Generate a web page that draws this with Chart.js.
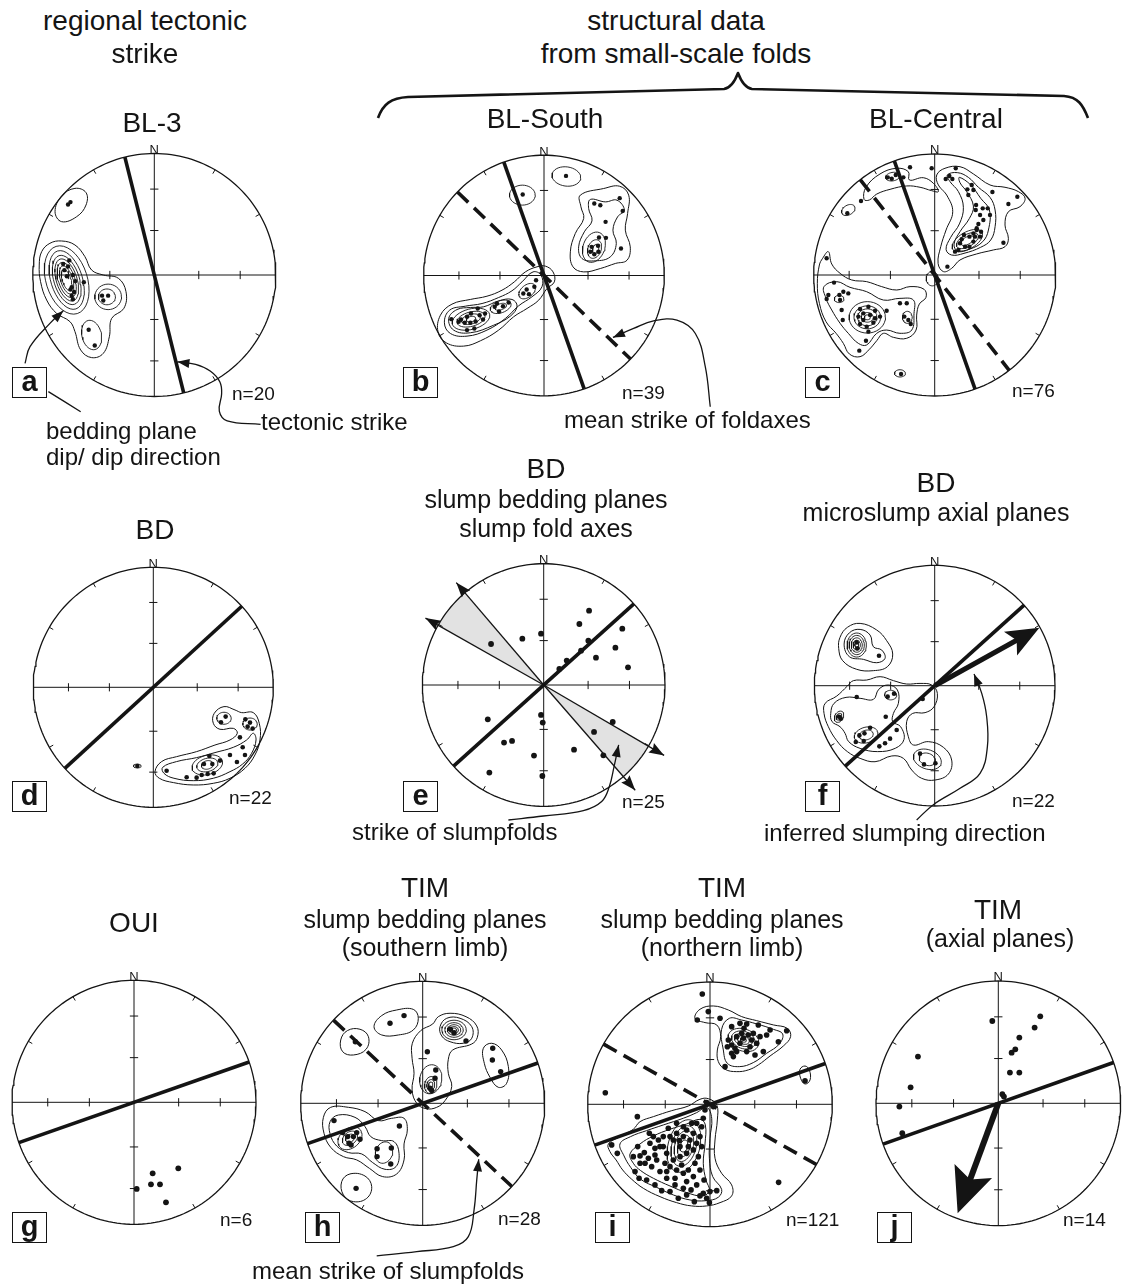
<!DOCTYPE html>
<html>
<head>
<meta charset="utf-8">
<title>Stereonets</title>
<script src="https://cdn.jsdelivr.net/npm/chart.js@4.4.1/dist/chart.umd.min.js"></script>
<style>
  html, body { margin: 0; padding: 0; background: #fff; }
  #page { position: relative; width: 1126px; height: 1285px; overflow: hidden;
          font-family: "Liberation Sans", Arial, Helvetica, sans-serif; color: #141414; }
  #page canvas { position: absolute; }
  .txt { position: absolute; white-space: nowrap; }
  .box { position: absolute; box-sizing: border-box; width: 35px; height: 31px; border: 1.6px solid #141414;
         font-weight: bold; font-size: 29px; line-height: 27px; text-align: center; }
</style>
</head>
<body>
<div id="page">
  <svg width="1126" height="140" style="position:absolute;left:0;top:0">
    <path d="M378,118 C383,104 391,98 408,97 L724,89 C731,88 735,81 738,73 C741,81 745,88 752,89 L1064,96 C1078,97 1083,105 1088,118"
          fill="none" stroke="#141414" stroke-width="2.6" stroke-linejoin="round"/>
  </svg>
</div>
<script>
// All stereonet values are in percent of the net radius: x = east, y = north.

// ---------- common net frame ----------
const azimuthTicks = [30, 60, 120, 150, 210, 240, 300, 330];
const dipTicks = [36.6, 70.7];

// ---------- a: BL-3 ----------
const polesA = [[-75,9],[-70,12],[-74,4],[-67,0],[-65,-5],[-69,-12],[-68,-17],[-67,-20],[-58,-6],[-43,-17],
  [-38,-17],[-42,-21],[-54,-45],[-49,-58],[-71,58],[-69,60],[-72,-1],[-68,-10],[-71,7],[-66,-14]];
const strikeA = [346];
const dashedA = [];
const contoursA = [
  [[-94.7,8.2],[-92.7,19.2],[-85.9,26.1],[-76.3,28],[-65.3,24.7],[-57.1,15.1],[-51.6,4.1],[-42,0],[-29.6,-2.7],
   [-23.3,-13.7],[-25,-27.4],[-35.1,-35.7],[-37,-50.8],[-42,-64.5],[-51.6,-68],[-60.6,-61.7],[-65.3,-46.6],
   [-69.4,-38.4],[-80.4,-31.6],[-88.6,-20.6],[-93.6,-5.5]],
  [[-81.7,52.1],[-76.3,65],[-65.3,71.3],[-56.2,67.8],[-56.2,57.6],[-63.9,48],[-76.3,43.9]]
];
const ringsA = [[-72.1,-4.1,29,17,-72.5],[-72.1,-4.1,25,13,-72.5],[-72.1,-4.1,21,10.5,-72.5],[-72.1,-4.1,18,8.5,-72.5],
  [-72.1,-4.1,15,6.8,-72.5],[-72.1,-4.1,12,5,-72.5],[-72.1,-4.1,9,3.6,-72.5],
  [-39,-18,7,6.5,0],[-38,-18,11,10.5,0],[-51.6,-49.4,12.3,8,-77]];

// ---------- b: BL-South ----------
const polesB = [[18.3,82.8],[-17.7,67.3],[41.8,59.8],[46.8,58.4],[62.9,64.3],[65.4,53.7],[51.2,44.6],[45.7,31.6],
  [51.5,31.3],[39.6,23.8],[38.5,19.7],[41.8,17.7],[45.2,19.7],[44.9,24.7],[64,22.4],
  [-6.6,-3.9],[-8,-9.4],[-14.4,-11.6],[-17.2,-15],[-12.5,-15.5],[-29.4,-22.4],[-39.1,-23.3],[-34.1,-25.5],
  [-37.4,-29.9],[-41,-26],[-49,-31.6],[-53.5,-33],[-60.7,-31.6],[-64,-34.3],[-69,-36.6],[-77,-36.3],
  [-65.9,-39.3],[-61.2,-39.3],[-56.8,-38.2],[-57.9,-44],[-64,-45.4],[-70.9,-38.5],[-50.7,-36.6],[-55.1,-27.4]];
const strikeB = [340.5];
const dashedB = [314];
const contoursB = [
  [[30.2,66.8],[49.6,72.3],[62.9,74.2],[70.4,66.8],[69.5,51.5],[67.6,37.7],[71.7,23.8],[69,12.7],[59.3,10],
   [46.8,5.8],[33,3],[24.1,7.2],[21.9,19.7],[26,34.9],[33,47.4],[30.7,57.1]],
  [[38.5,63.2],[51,61.2],[60.7,62.6],[66.8,54.3],[61.2,48.8],[57.3,37.7],[60.1,26.6],[55.1,15.5],[42.7,12.2],
   [31.6,14.1],[28.8,23.8],[33.5,36.3],[39.9,45.4],[37.1,55.7]],
  [[-5.8,7.2],[1.1,7.8],[7.5,3],[8.6,-5.3],[2.5,-10.8],[-4.4,-20.5],[-14.1,-27.4],[-25.2,-34.3],[-37.7,-45.4],
   [-52.9,-54.3],[-66.8,-58.7],[-81.2,-56],[-88.1,-46.8],[-86.1,-33],[-76.5,-23.8],[-61.2,-19.9],[-47.4,-17.2],
   [-34.9,-12.2],[-24.7,-5.3],[-15.5,3]],
  [[-9.1,3],[-2.5,0.3],[-1.7,-9.4],[-10,-17.7],[-21.1,-25.2],[-32.1,-35.7],[-47.4,-45.4],[-64,-50.4],[-77.8,-48.2],
   [-82.8,-39.3],[-78.4,-28.8],[-65.4,-25.5],[-51.5,-23.3],[-37.7,-18.3],[-26.6,-12.7],[-18.3,-5.3]],
  [[-72.3,-28.3],[-79.2,-35.7],[-75.1,-45.4],[-61.2,-47.6],[-41.8,-41.3],[-28,-33.8],[-22.4,-25.5],[-26.6,-19.9],
   [-37.7,-21.1],[-50.1,-26],[-61.2,-26.6]]
];
const ringsB = [[18.6,82.3,12,8,-8],[-18,66.8,10.7,8.3,0],[41.5,23.5,13,9,70],[42,22,8,5.5,70],[43,22,4,2.5,70],
  [-60.7,-36.3,16,8.5,15],[-60.7,-36.3,12,6,15],[-60.7,-36.3,8,4,15],[-60.7,-36.3,4,2.2,15],
  [-36,-26,9,5,20],[-36,-26,5,2.5,20],[-14,-13,8,5,40]];

// ---------- c: BL-Central ----------
const polesC = [[-38.8,80.7],[-35.5,79.6],[-32.2,82.7],[-25.9,80.7],[-20.4,89],[-2.5,88.2],[17.4,88.2],[9.1,79.3],
  [12.1,81.8],[14.6,79.3],[-60.9,61.2],[-72.2,51],
  [27,70.8],[30.6,74.4],[27.8,66.1],[47.7,68.6],[68.3,64.7],[60.9,58.7],[34.2,57.9],[39.7,55.1],[43.8,55.1],
  [33.9,53.7],[37.5,49.6],[45.7,49.6],[40.2,45.5],[34.7,38.6],[38.3,35.8],[32,34.4],[24.2,33.1],[28.7,31.7],
  [33.3,31.7],[37.5,31.7],[20.9,26.2],[25.1,23.4],[28.7,23.4],[19.6,20.7],[16.8,19.3],[56.8,26.7],[10.5,6.9],
  [34.7,37.2],[22.3,29.5],[32,70.3],[32,27.6],[36.1,42.2],
  [-89.3,13.8],[-83.2,-6.3],[-87.9,-16.5],[-89.3,-19.8],[-78.8,-16.5],[-78.2,-20.7],[-75.5,-13.8],[-71.4,-15.2],
  [-76.9,-28.9],[-76,-37.2],[-61.7,-28.1],[-54.8,-26.2],[-59,-31.7],[-63.1,-34.4],[-53.4,-33.1],[-49.3,-35.8],
  [-59,-37.2],[-61.7,-40.5],[-56.2,-42.7],[-50.7,-39.4],[-54.8,-46.8],[-56.8,-54.3],[-62.3,-62.5],[-39.7,-29.5],
  [-28.7,-23.4],[-23.1,-23.4],[-25.1,-34.4],[-21.8,-37.2],[-19.8,-40.5],[-49.3,-29.5],[-45.2,-34.4],
  [-27.8,-81.8]];
const strikeC = [340.5];
const dashedC = [322];
const contoursC = [
  [[-58.4,62.5],[-56.8,72.5],[-45.2,83.5],[-31.4,88.2],[-21.8,85.4],[-20.9,78.5],[-9.4,80.4],[-1.1,75.8],[3,68.9],
   [-2.5,69.7],[-12.1,72.5],[-23.1,73.6],[-36.9,70.8],[-47.9,66.9],[-54,62]],
  [[1.7,82.7],[8.5,88.2],[20.9,89.5],[32,83.5],[45.7,74.4],[58.1,72.5],[69.2,68.9],[74.7,63.4],[70.5,56.5],
   [60.9,52.3],[58.1,41.3],[60.9,30.3],[58.1,23.4],[48.5,20.7],[34.7,17.4],[20.9,12.4],[14,5.5],[7.2,2.8],
   [2.8,9.6],[5,23.4],[9.4,37.2],[14.9,52.3],[9.9,66.1],[3,74.4]],
  [[10.5,82.7],[18.7,84.6],[27.8,80.7],[36.1,72.5],[45.7,64.2],[49.9,53.7],[49.9,39.9],[46.3,28.9],[38,22.9],
   [24.2,17.9],[14,16.5],[9.4,21.2],[13.2,31.1],[20.4,42.2],[23.7,55.9],[19.6,68.9],[12.7,77.1]],
  [[20.4,80.7],[29.8,74.4],[38,63.4],[45.2,53.7],[44.4,37.2],[39.7,27.6],[29.2,21.5],[18.7,20.1],[16,25.6],
   [20.9,35.8],[28.7,46.8],[32,57],[26.4,68.9],[20.9,76.3]],
  [[-92.6,13.8],[-87.9,19.3],[-85.1,9.1],[-78.2,1.4],[-68.6,-4.1],[-56.2,-5.5],[-43.8,-9.6],[-31.4,-12.4],
   [-20.4,-9.6],[-8.8,-11.8],[-7.2,-18.5],[-12.7,-24],[-14.9,-33.1],[-15.4,-45.5],[-23.1,-52.3],[-34.2,-51.5],
   [-42.4,-48.2],[-47.9,-54.3],[-54,-61.4],[-61.7,-67.5],[-70.5,-65.3],[-75.5,-56.5],[-81.5,-48.2],[-89.8,-38.6],
   [-95.3,-23.4],[-97,-6.9],[-95.3,8.3]],
  [[-91.5,-9.6],[-81,-5.5],[-70,-10.2],[-56.2,-13.8],[-42.4,-20.7],[-28.7,-19.3],[-17.6,-20.7],[-17.1,-31.7],
   [-19,-45.5],[-28.7,-48.2],[-39.7,-45.5],[-47.9,-48.2],[-56.2,-57.8],[-63.1,-56.5],[-71.4,-48.2],[-78.2,-39.9],
   [-85.1,-28.9],[-89.8,-19.3]]
];
const ringsC = [[-34.7,81.3,6,3.5,10],[-71.4,53.7,6,4,30],[-28.7,-81.3,4.5,3,0],
  [27,28.4,14,7,30],[27,28.4,10,5,30],[27,28.4,6,3,30],
  [-55.7,-35,15,13,0],[-55.7,-35,11,9.5,0],[-55.7,-35,8,7,0],[-55.7,-35,5,4,0],[-55.7,-35,2.5,2,0],
  [-79,-19.8,4,3,0],[-22.6,-35,5,4,90],[-2,-3,5,6,0]];

// ---------- d: BD ----------
const polesD = [[60.3,-24.4],[56.4,-29.2],[76.7,-26.7],[80.6,-29.4],[78.6,-32.8],[82.8,-34.4],[74.5,-50],[76.4,-56.4],
  [69.7,-62.2],[63.9,-56.4],[55.6,-61.1],[46.7,-57.2],[42.2,-63.9],[49.2,-63.9],[45.3,-72.2],[40.3,-73.1],
  [50.3,-71.7],[36.1,-75.3],[27.8,-75],[11.1,-69.5],[72.2,-41.7],[-13.3,-65.6]];
const strikeD = [47.5];
const dashedD = [];
const contoursD = [
  [[1.4,-70.3],[6.9,-61.9],[19.4,-57.8],[36.1,-53.6],[51.4,-48.1],[63.9,-43.9],[70,-38.3],[66.7,-34.2],[55.6,-35],
   [50,-30],[50.8,-21.7],[58.9,-16.1],[68.1,-18.9],[73.6,-21.1],[83.3,-21.1],[88.3,-30],[88.9,-43.9],[84.7,-56.4],
   [76.4,-67.5],[63.9,-75.8],[50,-80],[33.3,-81.4],[16.7,-79.4],[5,-75.8]],
  [[7.8,-66.7],[19.4,-61.9],[36.1,-58.6],[51.4,-54.4],[66.7,-50],[77.8,-43.9],[83.3,-38.3],[85.6,-43.9],[81.9,-55],
   [74.5,-63.9],[63.9,-70.3],[50,-75.8],[33.3,-77.8],[17.2,-75.8],[8.9,-71.7]]
];
const ringsD = [[80.6,-30.6,6,5,0],[45,-64.7,13,8,15],[45,-64.7,9,5.5,15],[45,-64.7,5,3.5,15],[58.9,-25.8,6,5,0],
  [-13.3,-65.6,3.2,1.6,0]];

// ---------- e: BD slump bedding planes / slump fold axes ----------
const polesE = [[37.4,61.3],[29.4,50.3],[64.8,46.4],[36.8,36.5],[30.8,28.3],[59.1,30.8],[43.1,22.5],[69.5,14.6],
  [12.9,13.2],[-2.2,42.3],[-17.6,38.2],[-43.4,33.8],[-46.1,-28.3],[-2.2,-24.7],[-0.8,-31],[-32.7,-47.5],
  [-26.1,-46.1],[-8,-58.2],[-44.8,-72.2],[-1.1,-75],[41.5,-38.7],[56.9,-30.5],[25,-53.3],[49.2,-58],[19,20.1]];
const strikeE = [48];
const dashedE = [];
const foldAxisSectorsE = [[299.5, 319.5], [120.3, 139]];
const foldAxisArrowsE = [[319.5, 111], [299.5, 112], [120.3, 115], [139, 115]]; // azimuth, reach

// ---------- f: BD microslump axial planes ----------
const polesF = [[-64.8,36],[-64.3,31],[-46.3,24.9],[-64.8,-9.4],[-39.1,-9.1],[-33.8,-6.6],[-10,-11.1],[-79.5,-25.8],
  [-40.7,-25.8],[-53.7,-34.9],[-58.4,-39.6],[-62.6,-41.3],[-65.6,-46.8],[-59,-46],[-46,-50.4],[-37.1,-44],
  [-31.6,-36.8],[-12.2,-56.5],[-8.9,-65.4],[0.6,-64.5],[-41.3,-47.9],[-78.1,-27.4]];
const strikeF = [48];
const dashedF = [];
const slumpDirectionF = [61, 99.5]; // azimuth, reach
const contoursF = [
  [[-78.7,40.2],[-72.6,48.5],[-62,51.8],[-48.2,46.3],[-39.9,37.4],[-34.9,26.3],[-39.3,15.8],[-51,12.5],[-64.8,13.6],
   [-76.5,20.8],[-79.8,31]],
  [[-75.3,34.6],[-70.9,44],[-62,46.8],[-53.7,42.1],[-51,32.4],[-44,29.6],[-41.3,22.7],[-48.2,19.1],[-59.3,21.9],
   [-70.9,24.1]],
  [[-91.1,-14.7],[-81.4,-8.6],[-72.6,-0.3],[-67.6,4.2],[-56.5,4.7],[-45.4,7.5],[-34.3,4.2],[-23.3,1.4],[-12.2,1.9],
   [-2.5,0.6],[2.2,-6.4],[-0.6,-17.5],[-8,-22.4],[-18.3,-23],[-23.3,-29.9],[-21.9,-42.4],[-17.7,-49.3],[-5.3,-46.5],
   [7.2,-51.2],[14.1,-61.8],[11.4,-73.4],[0.3,-78.4],[-10.8,-77],[-19.1,-70.1],[-26,-60.4],[-35.7,-58.4],
   [-49.6,-63.2],[-62,-60.4],[-72.6,-54.8],[-81.4,-45.7],[-88.4,-34.1],[-92,-23]],
  [[-86.4,-23],[-83.7,-14.7],[-73.7,-9.7],[-62,-10.5],[-51,-11.4],[-46.5,-3],[-38.5,0.6],[-31,-3.6],[-30.2,-14.7],
   [-34.3,-23],[-34.9,-29.9],[-28.3,-34.1],[-25.5,-44.6],[-32.7,-52],[-47.4,-54.8],[-62,-52.1],[-71.5,-46.5],
   [-74.5,-39.6],[-78.7,-34.1],[-85.3,-29.9]]
];
const ringsF = [[-64.8,33.8,10,8,90],[-64.8,33.8,8,6.3,90],[-64.8,33.8,6,4.6,90],[-64.8,33.8,4,3,90],[-64.8,33.8,2.2,1.6,90],
  [-79.5,-25.8,5,3.5,60],[-79.5,-25.8,3,2,60],[-36.6,-7.8,5,4,0],[-57,-41,10,6.5,15],[-57,-41,6,4,15],
  [-6.1,-61.2,12,8,-20],[-6.1,-61.2,7,5,-20]];

// ---------- g: OUI ----------
const polesG = [[15.3,-58.2],[36.3,-54.1],[13.9,-67.2],[21.3,-67.2],[2.2,-71],[26.2,-82]];
const strikeG = [70.7];
const dashedG = [];

// ---------- h: TIM southern limb ----------
const polesH = [[-26.8,65.6],[-15.3,71.9],[-55.2,50.5],[3.8,42.3],[10.7,27.3],[10.1,20.5],[6,12.3],[7.4,10.4],
  [22.7,60.7],[25.7,57.9],[35.5,51.1],[57.4,45.1],[57.1,35.5],[63.9,26],[-72.7,-14.2],[-65.6,-24],[-61.5,-27.3],
  [-60.4,-32.8],[-56.8,-27.3],[-54.1,-24],[-51.4,-29.5],[-58.7,-34.2],[-19.1,-18.6],[-37.4,-37.2],[-25.7,-36.6],
  [-37.4,-43.7],[-26.2,-49.7],[-54.6,-69.7]];
const strikeH = [70.7];
const dashedH = [313];
const contoursH = [
  [[-67.2,51.9],[-61.7,59.6],[-51.4,60.7],[-44.5,54.6],[-46.4,44.3],[-56.8,39.6],[-65.6,42.3]],
  [[-39.9,62.8],[-33.6,71.9],[-21.3,76.5],[-7.7,77],[-3.6,69.7],[-7.7,60.1],[-19.9,56],[-33.6,56]],
  [[-8.5,49.2],[-1.6,59.6],[8.2,65],[12.8,71],[22.4,73.8],[35.5,71],[44.3,63.4],[44.8,54.1],[40.2,48.6],[24.6,43.7],
   [21,36.1],[21,24.6],[23.8,13.7],[18.3,2.2],[11.5,-3.3],[2.7,-4.4],[-4.9,0],[-8.7,10.9],[-7.1,24.6],[-8.7,36.9]],
  [[14.2,62.8],[19.7,69.7],[30.6,69.7],[40.2,62.8],[40.2,53.3],[33.3,49.2],[22.4,50.5],[15.6,55.2]],
  [[49.7,45.1],[56.6,49.2],[64.7,43.7],[70.2,30.1],[68.8,16.4],[62,13.1],[55.2,21.3],[50.5,32.8]],
  [[-81.4,-11.5],[-75.4,-3.3],[-60.9,-3.3],[-47.3,-6.8],[-36.3,-14.2],[-25.4,-12.3],[-15.3,-12.3],[-12.6,-21.9],
   [-15.3,-33.3],[-15.3,-46.4],[-21.3,-57.9],[-32.8,-60.1],[-43.7,-53.3],[-54.1,-46.4],[-65,-43.7],[-75.4,-36.1],
   [-80.9,-24.6]],
  [[-75.9,-15],[-69.1,-9.6],[-55.5,-11.5],[-47.3,-19.1],[-42.6,-27.3],[-33.6,-30.6],[-23.5,-31.4],[-19.4,-41],
   [-21.9,-51.9],[-30.9,-54.1],[-41,-48.6],[-50,-41.5],[-60.9,-40.4],[-70.5,-35],[-75.9,-25.1]],
  [[-66.4,-64.2],[-59.6,-57.9],[-47.3,-59.6],[-41.8,-68.3],[-45.9,-77.9],[-56.8,-80.6],[-65,-75.1]]
];
const ringsH = [[25.7,60.1,10,8,0],[25.7,60.1,7.5,6,0],[25.7,60.1,5.5,4.3,0],[25.7,60.1,3.5,2.8,0],[25.7,60.1,2,1.6,0],
  [6.6,19.7,12,9,80],[6.6,15,7,5,80],[6.6,15,4.5,3.2,80],[6.6,15,2.5,1.8,80],
  [-59.6,-28.7,11,8,40],[-59.6,-28.7,7,5,40],[-59.6,-28.7,4,3,40],[-31.7,-40.4,9,7,70]];

// ---------- i: TIM northern limb ----------
const polesI = [[17.7,63.5],[24.5,66.2],[30,65.7],[39.5,64.9],[49.1,60.8],[62.7,60.2],[55.9,51.2],[15,52.6],[17.7,48.5],
  [21.8,55.3],[25.9,58],[31.3,56.7],[35.4,58],[40.9,55.3],[38.2,49.9],[32.7,47.1],[24.5,49.9],[20.4,45.8],[17.7,41.7],
  [21.8,43.1],[30,43.1],[36.8,40.3],[43.6,43.1],[12.3,30.8],[27.3,54],[27.8,62.1],[46.3,56.7],[34.1,52.6],[19.1,39],
  [14.2,47.1],
  [-80.4,-33.2],[-75.8,-40.1],[-62.7,-42.8],[-61.3,-55],[-58,-60.5],[-51.8,-61.9],[-45,-65.9],[-39.5,-70.6],
  [-32.7,-71.4],[-25.9,-76.8],[-19.1,-74.1],[-12.8,-79.6],[-5.5,-72.8],[0,-71.4],[5.5,-70.6],[-0.5,-80.4],
  [-2.7,-76.8],[-8.2,-74.9],[-15.5,-70],[-21.8,-68.7],[-28.6,-60.5],[-35.4,-55],[-40.9,-55],[-47.7,-51],
  [-53.1,-48.2],[-59.1,-34.6],[-53.7,-39.5],[-49.1,-31.9],[-46.3,-26.4],[-49.6,-23.7],[-42.2,-29.2],[-38.2,-34.6],
  [-35.4,-40.1],[-32.7,-26.4],[-34.1,-19.6],[-30,-29.2],[-27.3,-23.7],[-24.5,-34.6],[-21.8,-26.4],[-19.1,-21],
  [-16.4,-29.2],[-13.6,-23.7],[-10.9,-31.9],[-13.6,-37.3],[-19.1,-40.1],[-24.5,-42.8],[-30,-45.5],[-36.8,-48.2],
  [-32.7,-51],[-27.3,-53.7],[-21.8,-56.4],[-17.7,-53.7],[-12.3,-48.2],[-9.5,-42.8],[-6.8,-34.6],[-8.2,-26.4],
  [-6.8,-18.3],[-5.5,-11.4],[-4.1,-4.6],[-10.9,-15.5],[-15,-15.5],[-21.8,-18.3],[-27.3,-15.5],[-38.2,-26.4],
  [-40.9,-34.6],[-45,-41.4],[-50.4,-44.1],[-57.2,-48.2],[-19.1,-63.2],[-13.6,-59.1],[-8.2,-53.7],[-4.9,-61.9],
  [-10.9,-65.9],[-57.2,-42.2],[-43.6,-45.5],[-28.6,-65.9],[-35.4,-60.5],[-23.2,-49.6],[-17.7,-34.6],[-25.1,-29.7],
  [-6.3,90.2],[-1.4,75.8],[-10.4,68.9],[8.2,70.3],[-85.6,9.5],[56.1,-63.8],[77.7,19.3],[-59.4,-10.1],[-2.7,1.4],
  [2.7,-1.9],[-45,-36]];
const strikeI = [70.5];
const dashedI = [299.5];
const contoursI = [
  [[-12.3,70.3],[-8.2,77.7],[2.7,80.4],[15,77.1],[25.9,71.7],[38.2,68.4],[51.8,64.9],[63.2,62.1],[65.9,55.3],
   [60,47.7],[49.1,39.5],[39.5,32.2],[31.3,28.1],[21.8,26.7],[12.3,28.6],[6.8,34.9],[6,44.4],[8.7,55.3],[5.5,64.9],
   [-4.1,66.8]],
  [[9.5,61.3],[15.8,70.3],[25.9,68.9],[38.2,65.7],[51.8,61.3],[59.4,57.5],[56.7,49.3],[46.3,41.7],[35.4,34.1],
   [24,30.8],[14.2,33.5],[10.9,44.4]],
  [[73.6,28.6],[77.7,31.3],[81.2,28.1],[81.8,19.9],[77.7,16.6],[74.1,21.3]],
  [[-83.1,-32.4],[-73.6,-26.4],[-62.7,-20.4],[-57.2,-14.2],[-46.3,-10.1],[-31.3,-5.2],[-17.7,-1.4],[-8.2,4.1],
   [-1.4,4.6],[5.5,-0.5],[6,-12.8],[4.1,-29.2],[4.1,-44.1],[9.5,-56.4],[17.7,-65.9],[17.7,-74.9],[8.2,-80.4],
   [-2.7,-83.1],[-15,-83.1],[-27.3,-80.4],[-40.9,-75.5],[-54.5,-68.7],[-64,-61.3],[-71.4,-53.7],[-76.8,-45.5],
   [-81.8,-38.7]],
  [[-73.6,-32.4],[-64.9,-26.4],[-51.8,-21.5],[-38.2,-16.9],[-21.8,-11.4],[-10.9,-6.8],[-2.7,-2.5],[1.4,-11.4],
   [0,-27.8],[-0.5,-44.1],[2.2,-59.1],[9.5,-69.5],[6.8,-76],[-3.3,-78.8],[-16.4,-78.2],[-30,-74.1],[-43.6,-67.9],
   [-56.7,-61.3],[-64.9,-51.5],[-70.3,-42.2]],
  [[-65.4,-40.6],[-57.2,-32.4],[-46.3,-25.9],[-32.7,-20.4],[-19.1,-16.1],[-8.2,-12.3],[-3.8,-16.9],[-4.1,-32.4],
   [-5.5,-48.2],[-3.3,-61.9],[-0.5,-70.6],[-6,-74.9],[-19.1,-72.2],[-32.7,-66.8],[-46.3,-60.5],[-56.7,-54.2],
   [-62.7,-48.2]]
];
const ringsI = [[27.3,52.6,13,9,-20],[27.3,52.6,10,7,-20],[27.3,52.6,7.5,5,-20],[27.3,52.6,5,3.3,-20],[27.3,52.6,2.5,1.7,-20],
  [-21.3,-34.1,22,13,75],[-21.3,-34.1,17,10,75],[-21.3,-34.1,13,7.5,75],[-21.3,-34.1,9,5,75],[-21.3,-34.1,5,3,75]];

// ---------- j: TIM axial planes ----------
const polesJ = [[-4.9,67.3],[34.3,71.1],[29.7,61.9],[17.2,53.7],[13.9,44.1],[10.9,41.4],[9.5,25.1],[17.2,25.1],
  [3.3,7.4],[-65.7,38.2],[-71.7,13.1],[-80.9,-2.7],[-78.5,-24.5],[4.6,5.5]];
const strikeJ = [70.5];
const dashedJ = [];
const vergenceJ = [200.3, 95.8]; // azimuth, reach

// ---------- leader lines of the annotations (net units) ----------
const leadersA = [
  {path: [[-106.4,-72.7],[-102.3,-59],[-85.9,-39.8],[-74.9,-29.4]], head: true},
  {path: [[-87.2,-96],[-60.6,-112.5]], head: false},
  {path: [[87.5,-122.9],[60,-120],[53.5,-112],[55.4,-98],[54,-88],[46,-79],[34,-73.5],[19,-71.5]], head: true}
];
const leadersB = [{path: [[138.2,-109.1],[134.1,-75.9],[125.8,-48.2],[110.5,-37.1],[91.1,-37.7],[74.5,-44],[57.3,-51.5]], head: true}];
const leadersE = [{path: [[-29.1,-111.3],[-0.3,-108],[32.7,-103.6],[47.8,-96.1],[54.1,-83.8],[58,-67.3],[61.8,-49.4]], head: true}];
const leadersF = [{path: [[-15,-111.6],[-1.1,-98.9],[21.1,-85.3],[37.7,-72.9],[43.8,-50.7],[43.2,-25.8],[39.1,-6.4],[32.7,9.7]], head: true}];
const leadersH = [{path: [[-37.7,-125.1],[-4.9,-121.6],[25.1,-117.5],[37.4,-109.3],[42.1,-87.4],[44.3,-62.8],[45.9,-45.9]], head: true}];

// ---------- page layout ----------
const INK = '#141414';
const nets = [
  {id:'a', cx:154.3, cy:275,    r:121.5, ext:[-115,104,-130,103], poles:polesA, dot:2.2, strikes:strikeA, dashed:dashedA, contours:contoursA, rings:ringsA, leaders:leadersA},
  {id:'b', cx:544,   cy:275.5,  r:120.3, ext:[-103,142,-112,103], poles:polesB, dot:2.2, strikes:strikeB, dashed:dashedB, contours:contoursB, rings:ringsB, leaders:leadersB},
  {id:'c', cx:934.7, cy:275,    r:121,   ext:[-103,103,-103,103], poles:polesC, dot:2.2, strikes:strikeC, dashed:dashedC, contours:contoursC, rings:ringsC},
  {id:'d', cx:153.3, cy:687.3,  r:120,   ext:[-103,103,-103,103], poles:polesD, dot:2.3, strikes:strikeD, dashed:dashedD, contours:contoursD, rings:ringsD},
  {id:'e', cx:543.7, cy:685,    r:121.3, ext:[-118,118,-118,103], poles:polesE, dot:2.9, strikes:strikeE, dashed:dashedE, sectors:foldAxisSectorsE, fans:foldAxisArrowsE, leaders:leadersE},
  {id:'f', cx:934.7, cy:685.7,  r:120.3, ext:[-103,103,-115,103], poles:polesF, dot:2.3, strikes:strikeF, dashed:dashedF, contours:contoursF, rings:ringsF, bigArrow:{v:slumpDirectionF, len:33, width:27, notch:7, shaft:5}, leaders:leadersF},
  {id:'g', cx:134,   cy:1102.3, r:122,   ext:[-103,103,-103,103], poles:polesG, dot:2.9, strikes:strikeG, dashed:dashedG},
  {id:'h', cx:422.7, cy:1103.3, r:122,   ext:[-103,103,-128,103], poles:polesH, dot:2.7, strikes:strikeH, dashed:dashedH, contours:contoursH, rings:ringsH, leaders:leadersH},
  {id:'i', cx:710,   cy:1104.3, r:122.3, ext:[-103,103,-103,103], poles:polesI, dot:2.8, strikes:strikeI, dashed:dashedI, contours:contoursI, rings:ringsI},
  {id:'j', cx:998.3, cy:1103.3, r:122.3, ext:[-103,103,-103,103], poles:polesJ, dot:2.9, strikes:strikeJ, dashed:dashedJ, bigArrow:{v:vergenceJ, len:45, width:40, notch:9, shaft:6}}
];

const panelBoxes = {a:[12,367], b:[403,367], c:[805,367], d:[12,781], e:[403,781], f:[805,781],
                    g:[12,1212], h:[305,1212], i:[595,1212], j:[877,1212]};
const countLabels = [['n=20',232,400],['n=39',622,399],['n=76',1012,397],['n=22',229,804],['n=25',622,808],
                     ['n=22',1012,807],['n=6',220,1226],['n=28',498,1225],['n=121',786,1226],['n=14',1063,1226]];
// [text, x, baseline, size, anchor]
const headings = [
  ['regional tectonic',145,31,28,'c'], ['strike',145,64,28,'c'],
  ['structural data',676,31,28,'c'], ['from small-scale folds',676,64,28,'c'],
  ['BL-3',152,133,28,'c'], ['BL-South',545,129,28,'c'], ['BL-Central',936,129,28,'c'],
  ['BD',155,540,28,'c'],
  ['BD',546,479,28,'c'], ['slump bedding planes',546,508,25,'c'], ['slump fold axes',546,537,25,'c'],
  ['BD',936,493,28,'c'], ['microslump axial planes',936,521,25,'c'],
  ['OUI',134,933,28,'c'],
  ['TIM',425,898,28,'c'], ['slump bedding planes',425,928,25,'c'], ['(southern limb)',425,956,25,'c'],
  ['TIM',722,898,28,'c'], ['slump bedding planes',722,928,25,'c'], ['(northern limb)',722,956,25,'c'],
  ['TIM',998,920,28,'c'], ['(axial planes)',1000,947,25,'c'],
  ['bedding plane',46,439,24,'l'], ['dip/ dip direction',46,465,24,'l'],
  ['tectonic strike',261,430,24,'l'], ['mean strike of foldaxes',564,428,24,'l'],
  ['strike of slumpfolds',352,840,24,'l'], ['inferred slumping direction',764,841,24,'l'],
  ['mean strike of slumpfolds',252,1279,24,'l']
];

// ---------- helpers ----------
const page = document.getElementById('page');
const rad = d => d * Math.PI / 180;
const xy = ([x, y]) => ({x, y});
const GAP = {x: null, y: null};
const onNet = (az, d) => ({x: d * Math.sin(rad(az)), y: d * Math.cos(rad(az))});

function addText(str, x, base, size, anchor, weight) {
  const d = document.createElement('div');
  d.className = 'txt';
  d.textContent = str;
  d.style.fontSize = size + 'px';
  d.style.lineHeight = size + 'px';
  d.style.top = (base - 0.8465 * size) + 'px';
  d.style.left = x + 'px';
  if (weight) d.style.fontWeight = weight;
  if (anchor === 'c') d.style.transform = 'translateX(-50%)';
  page.appendChild(d);
}

// closed curve, wrapped so the spline has no corner where it closes
function closedCurve(poly, order) {
  const n = poly.length;
  const data = [poly[n - 1], ...poly, poly[0], poly[1]].map(xy);
  const last = data.length - 1;
  return {
    data, showLine: true, tension: 0.4, borderColor: INK, borderWidth: 1, pointRadius: 0, order,
    segment: {borderColor: c => (c.p0DataIndex === 0 || c.p1DataIndex === last) ? 'rgba(0,0,0,0)' : undefined}
  };
}

function ringCurve([cx, cy, a, b, rot], order) {
  const data = [];
  const t = rad(rot);
  for (let k = 0; k <= 36; k++) {
    const u = rad(k * 10);
    data.push({x: cx + a * Math.cos(u) * Math.cos(t) - b * Math.sin(u) * Math.sin(t),
               y: cy + a * Math.cos(u) * Math.sin(t) + b * Math.sin(u) * Math.cos(t)});
  }
  return {data, showLine: true, borderColor: INK, borderWidth: 0.9, pointRadius: 0, order};
}

// arrowheads at the end of datasets that ask for one
const arrowHeads = {
  id: 'arrowHeads',
  afterDatasetsDraw(chart) {
    const ctx = chart.ctx;
    chart.data.datasets.forEach((ds, i) => {
      const h = ds.arrowHead;
      if (!h) return;
      const pts = chart.getDatasetMeta(i).data;
      const tip = pts[pts.length - 1];
      let fx = tip.cp1x, fy = tip.cp1y;
      if (fx === undefined || Math.hypot(tip.x - fx, tip.y - fy) < 0.5) {
        fx = pts[pts.length - 2].x; fy = pts[pts.length - 2].y;
      }
      const ang = Math.atan2(tip.y - fy, tip.x - fx);
      ctx.save();
      ctx.translate(tip.x, tip.y);
      ctx.rotate(ang);
      ctx.beginPath();
      ctx.moveTo(0, 0);
      ctx.lineTo(-h.len, h.width / 2);
      ctx.lineTo(-h.len + (h.notch || 0), 0);
      ctx.lineTo(-h.len, -h.width / 2);
      ctx.closePath();
      ctx.fillStyle = INK;
      ctx.fill();
      ctx.restore();
    });
  }
};

function buildNet(net) {
  const k = net.r / 100;
  const [x0, x1, y0, y1] = net.ext;
  const L = Math.floor(net.cx + x0 * k), R = Math.ceil(net.cx + x1 * k);
  const T = Math.floor(net.cy - y1 * k), B = Math.ceil(net.cy - y0 * k);
  const canvas = document.createElement('canvas');
  canvas.width = R - L; canvas.height = B - T;
  canvas.style.left = L + 'px'; canvas.style.top = T + 'px';
  canvas.style.width = (R - L) + 'px'; canvas.style.height = (B - T) + 'px';
  page.appendChild(canvas);

  const ds = [];

  // shaded sectors of fold-axis strikes
  (net.sectors || []).forEach(([a1, a2]) => {
    const data = [{x: 0, y: 0}];
    for (let a = a1; a < a2; a += 1) data.push(onNet(a, 100));
    data.push(onNet(a2, 100), {x: 0, y: 0});
    ds.push({data, showLine: true, fill: 'shape', backgroundColor: '#e2e2e2', borderWidth: 0, pointRadius: 0, order: 9});
  });

  // density contours
  (net.contours || []).forEach(p => ds.push(closedCurve(p, 7)));
  (net.rings || []).forEach(r => ds.push(ringCurve(r, 7)));

  // primitive circle
  const circle = [];
  for (let a = 0; a <= 360; a += 2) circle.push(onNet(a, 100));
  ds.push({data: circle, showLine: true, borderColor: INK, borderWidth: 1.3, pointRadius: 0, order: 5});

  // N-S / E-W axes, dip marks and perimeter marks
  const frame = [{x: -100, y: 0}, {x: 100, y: 0}, GAP, {x: 0, y: -100}, {x: 0, y: 100}, GAP];
  dipTicks.forEach(t => [-1, 1].forEach(s => {
    frame.push({x: s * t, y: -3.4}, {x: s * t, y: 3.4}, GAP, {x: -3.4, y: s * t}, {x: 3.4, y: s * t}, GAP);
  }));
  azimuthTicks.forEach(a => frame.push(onNet(a, 100), onNet(a, 96.3), GAP));
  ds.push({data: frame, showLine: true, spanGaps: false, borderColor: INK, borderWidth: 1, pointRadius: 0, order: 6});

  // strike lines
  net.strikes.forEach(az => ds.push({data: [onNet(az, 100), onNet(az + 180, 100)], showLine: true,
    borderColor: INK, borderWidth: 3.6, pointRadius: 0, order: 3}));
  net.dashed.forEach(az => ds.push({data: [onNet(az, 100), onNet(az + 180, 100)], showLine: true,
    borderColor: INK, borderWidth: 3.6, borderDash: [15, 8], pointRadius: 0, order: 3}));

  // fold-axis arrows
  (net.fans || []).forEach(([az, reach]) => ds.push({data: [{x: 0, y: 0}, onNet(az, reach)], showLine: true,
    borderColor: INK, borderWidth: 1.3, pointRadius: 0, order: 2, arrowHead: {len: 15, width: 11, notch: 2}}));

  // thick direction arrow
  if (net.bigArrow) {
    const {v: [az, reach], len, width, notch, shaft} = net.bigArrow;
    const neck = reach - (len - notch - 1) / k;
    ds.push({data: [{x: 0, y: 0}, onNet(az, neck), onNet(az, reach)], showLine: true, borderColor: INK,
      borderWidth: shaft, pointRadius: 0, order: 1, arrowHead: {len, width, notch},
      segment: {borderColor: c => c.p1DataIndex === 2 ? 'rgba(0,0,0,0)' : undefined}});
  }

  // annotation leaders
  (net.leaders || []).forEach(l => ds.push({data: l.path.map(xy), showLine: true, tension: 0.4, borderColor: INK,
    borderWidth: 1.3, pointRadius: 0, order: 2, arrowHead: l.head ? {len: 12, width: 9} : null}));

  // poles
  ds.push({data: net.poles.map(xy), showLine: false, pointRadius: net.dot, pointBackgroundColor: INK,
    pointBorderWidth: 0, order: 0});

  new Chart(canvas, {
    type: 'scatter',
    data: {datasets: ds},
    options: {
      responsive: false, animation: false, events: [], devicePixelRatio: 1,
      layout: {padding: 0, autoPadding: false},
      plugins: {legend: {display: false}, tooltip: {enabled: false}},
      scales: {
        x: {type: 'linear', display: false, min: (L - net.cx) / k, max: (R - net.cx) / k},
        y: {type: 'linear', display: false, min: (net.cy - B) / k, max: (net.cy - T) / k}
      }
    },
    plugins: [arrowHeads]
  });

  // north label
  addText('N', net.cx, net.cy - net.r + 0.5, 13, 'c');
}

nets.forEach(buildNet);

headings.forEach(([s, x, b, size, anchor]) => addText(s, x, b, size, anchor));
countLabels.forEach(([s, x, b]) => addText(s, x, b, 19, 'l'));
Object.entries(panelBoxes).forEach(([id, [x, y]]) => {
  const d = document.createElement('div');
  d.className = 'box';
  d.textContent = id;
  d.style.left = x + 'px';
  d.style.top = y + 'px';
  page.appendChild(d);
});
</script>
</body>
</html>
